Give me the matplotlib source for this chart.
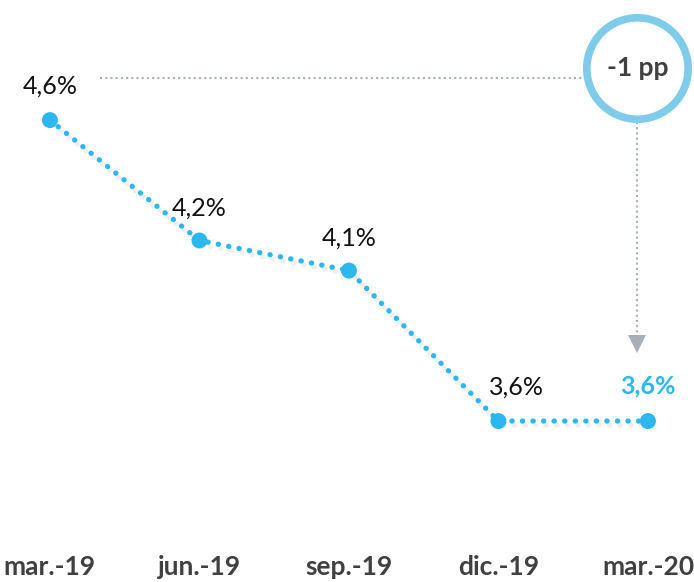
import matplotlib.pyplot as plt
import matplotlib.patheffects as pe

# trimestres y tasa (%)
periodos = ['mar.-19', 'jun.-19', 'sep.-19', 'dic.-19', 'mar.-20']
tasa = [4.6, 4.2, 4.1, 3.6, 3.6]
etiquetas = ['4,6%', '4,2%', '4,1%', '3,6%', '3,6%']
variacion = '-1 pp'

azul = '#2db7ef'
azul_claro = '#7ecbea'
gris = '#a7b0b8'

plt.rcParams['font.family'] = ['Lato', 'DejaVu Sans']

fig = plt.figure(figsize=(6.94, 5.82), dpi=100)
ax = fig.add_axes([0, 1 - 530 / 582, 1, 530 / 582])

x = list(range(len(periodos)))
sombra = [pe.SimpleLineShadow(offset=(2, -3), shadow_color='gray', alpha=0.12), pe.Normal()]
ax.plot(x, tasa, color=azul, lw=3.8, linestyle=(0, (0.05, 1.95)), dash_capstyle='round',
        marker='o', markersize=11.5, markeredgewidth=0, path_effects=sombra, zorder=3)

# etiquetas de valor
offsets = [(0, 16), (0, 15), (0, 15), (13, 16), (0, 17)]
for i, (v, t) in enumerate(zip(tasa, etiquetas)):
    ultimo = i == len(tasa) - 1
    ax.annotate(t, (i, v), xytext=offsets[i], textcoords='offset points',
                ha='center', va='bottom', fontsize=18,
                color=azul if ultimo else '#111111',
                fontweight='bold' if ultimo else 'normal')

# referencia horizontal y flecha hacia el ultimo valor
ax.plot([0.334, 3.57], [4.74, 4.74], color=gris, lw=1.5, linestyle=(0, (1, 1.5)), zorder=1)
ax.plot([3.93, 3.93], [4.593, 3.88], color=gris, lw=1.5, linestyle=(0, (1, 1.5)), zorder=1)
ax.plot([3.93], [3.855], marker='v', markersize=13, color=gris, markeredgewidth=0)

# circulo con la variacion
ax.plot([3.93], [4.773], marker='o', markersize=73, markerfacecolor='white',
        markeredgecolor=azul_claro, markeredgewidth=5.5, zorder=4, clip_on=False)
ax.text(3.93, 4.773, variacion, ha='center', va='center', fontsize=19,
        fontweight='bold', color='#404040', zorder=5)

ax.set_xlim(-0.334, 4.308)
ax.set_ylim(3.238, 4.999)
ax.set_xticks(x)
ax.set_xticklabels(periodos, fontsize=19, fontweight='bold', color='#404040')
ax.tick_params(axis='x', length=0, pad=18)
ax.set_yticks([])
for s in ax.spines.values():
    s.set_visible(False)

fig.savefig('out.png', dpi=100)
